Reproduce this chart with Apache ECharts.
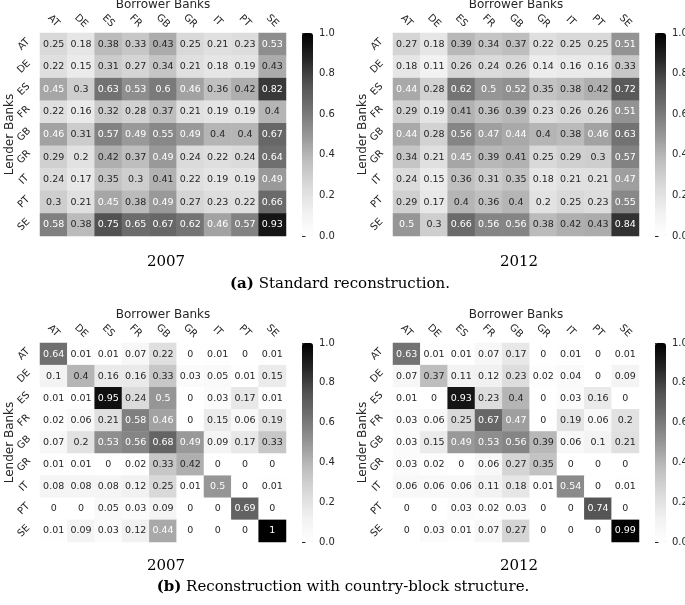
<!DOCTYPE html>
<html>
<head>
<meta charset="utf-8">
<script src="https://cdn.jsdelivr.net/npm/echarts@6/dist/echarts.min.js"></script>
<style>
  html, body { margin: 0; padding: 0; background: #fff; }
  #chart { width: 685px; height: 605px; }
</style>
</head>
<body>
<div id="chart"></div>
<script>
// banks (same order on both axes)
const banks = ["AT", "DE", "ES", "FR", "GB", "GR", "IT", "PT", "SE"];
const cbTicks = [0, 0.2, 0.4, 0.6, 0.8, 1.0];

// (a) standard reconstruction, rows = lender, cols = borrower
const std2007 = [
  [0.25, 0.18, 0.38, 0.33, 0.43, 0.25, 0.21, 0.23, 0.53],
  [0.22, 0.15, 0.31, 0.27, 0.34, 0.21, 0.18, 0.19, 0.43],
  [0.45, 0.3, 0.63, 0.53, 0.6, 0.46, 0.36, 0.42, 0.82],
  [0.22, 0.16, 0.32, 0.28, 0.37, 0.21, 0.19, 0.19, 0.4],
  [0.46, 0.31, 0.57, 0.49, 0.55, 0.49, 0.4, 0.4, 0.67],
  [0.29, 0.2, 0.42, 0.37, 0.49, 0.24, 0.22, 0.24, 0.64],
  [0.24, 0.17, 0.35, 0.3, 0.41, 0.22, 0.19, 0.19, 0.49],
  [0.3, 0.21, 0.45, 0.38, 0.49, 0.27, 0.23, 0.22, 0.66],
  [0.58, 0.38, 0.75, 0.65, 0.67, 0.62, 0.46, 0.57, 0.93],
];
const std2012 = [
  [0.27, 0.18, 0.39, 0.34, 0.37, 0.22, 0.25, 0.25, 0.51],
  [0.18, 0.11, 0.26, 0.24, 0.26, 0.14, 0.16, 0.16, 0.33],
  [0.44, 0.28, 0.62, 0.5, 0.52, 0.35, 0.38, 0.42, 0.72],
  [0.29, 0.19, 0.41, 0.36, 0.39, 0.23, 0.26, 0.26, 0.51],
  [0.44, 0.28, 0.56, 0.47, 0.44, 0.4, 0.38, 0.46, 0.63],
  [0.34, 0.21, 0.45, 0.39, 0.41, 0.25, 0.29, 0.3, 0.57],
  [0.24, 0.15, 0.36, 0.31, 0.35, 0.18, 0.21, 0.21, 0.47],
  [0.29, 0.17, 0.4, 0.36, 0.4, 0.2, 0.25, 0.23, 0.55],
  [0.5, 0.3, 0.66, 0.56, 0.56, 0.38, 0.42, 0.43, 0.84],
];
// (b) country-block structure
const blk2007 = [
  [0.64, 0.01, 0.01, 0.07, 0.22, 0, 0.01, 0, 0.01],
  [0.1, 0.4, 0.16, 0.16, 0.33, 0.03, 0.05, 0.01, 0.15],
  [0.01, 0.01, 0.95, 0.24, 0.5, 0, 0.03, 0.17, 0.01],
  [0.02, 0.06, 0.21, 0.58, 0.46, 0, 0.15, 0.06, 0.19],
  [0.07, 0.2, 0.53, 0.56, 0.68, 0.49, 0.09, 0.17, 0.33],
  [0.01, 0.01, 0, 0.02, 0.33, 0.42, 0, 0, 0],
  [0.08, 0.08, 0.08, 0.12, 0.25, 0.01, 0.5, 0, 0.01],
  [0, 0, 0.05, 0.03, 0.09, 0, 0, 0.69, 0],
  [0.01, 0.09, 0.03, 0.12, 0.44, 0, 0, 0, 1],
];
const blk2012 = [
  [0.63, 0.01, 0.01, 0.07, 0.17, 0, 0.01, 0, 0.01],
  [0.07, 0.37, 0.11, 0.12, 0.23, 0.02, 0.04, 0, 0.09],
  [0.01, 0, 0.93, 0.23, 0.4, 0, 0.03, 0.16, 0],
  [0.03, 0.06, 0.25, 0.67, 0.47, 0, 0.19, 0.06, 0.2],
  [0.03, 0.15, 0.49, 0.53, 0.56, 0.39, 0.06, 0.1, 0.21],
  [0.03, 0.02, 0, 0.06, 0.27, 0.35, 0, 0, 0],
  [0.06, 0.06, 0.06, 0.11, 0.18, 0.01, 0.54, 0, 0.01],
  [0, 0, 0.03, 0.02, 0.03, 0, 0, 0.74, 0],
  [0, 0.03, 0.01, 0.07, 0.27, 0, 0, 0, 0.99],
];

const matrices = [std2007, std2012, blk2007, blk2012];

// layout of the four heatmaps (px)
const boxes = [
  { left: 40, top: 33, width: 246, height: 203 },
  { left: 393, top: 33, width: 246, height: 203 },
  { left: 40, top: 343, width: 246, height: 199 },
  { left: 393, top: 343, width: 246, height: 199 },
];

// matplotlib "Greys"
const greys = ["#ffffff", "#f0f0f0", "#d9d9d9", "#bdbdbd", "#969696",
  "#737373", "#525252", "#252525", "#000000"];
const FONT = "DejaVu Sans";
const INK = "#262626";

const grid = [], xAxis = [], yAxis = [], series = [], visualMap = [];

boxes.forEach((b, i) => {
  grid.push({ left: b.left, top: b.top, width: b.width, height: b.height, outerBoundsMode: "none" });
  xAxis.push({
    type: "category", gridIndex: i, data: banks, position: "top",
    name: "Borrower Banks", nameLocation: "middle", nameGap: 22, nameMoveOverlap: false,
    nameTextStyle: { fontFamily: FONT, fontSize: 12, color: INK },
    axisLine: { show: false },
    axisTick: { alignWithLabel: true, length: 3.5, lineStyle: { color: INK } },
    axisLabel: { rotate: 45, align: "center", verticalAlign: "middle", margin: 12,
      interval: 0, fontFamily: FONT, fontSize: 10, color: INK },
    splitLine: { show: false },
  });
  yAxis.push({
    type: "category", gridIndex: i, data: banks, inverse: true,
    name: "Lender Banks", nameLocation: "middle", nameGap: 24, nameMoveOverlap: false,
    nameTextStyle: { fontFamily: FONT, fontSize: 12, color: INK },
    axisLine: { show: false },
    axisTick: { alignWithLabel: true, length: 3.5, lineStyle: { color: INK } },
    axisLabel: { rotate: 45, align: "center", verticalAlign: "middle", margin: 16,
      interval: 0, fontFamily: FONT, fontSize: 10, color: INK },
    splitLine: { show: false },
  });

  const data = [];
  matrices[i].forEach((row, r) => {
    row.forEach((v, c) => {
      data.push({ value: [c, r, v], label: { color: v >= 0.44 ? "#ffffff" : INK } });
    });
  });
  series.push({
    type: "heatmap", xAxisIndex: i, yAxisIndex: i, data: data,
    label: { show: true, fontFamily: FONT, fontSize: 9.5, formatter: (p) => String(p.value[2]) },
    itemStyle: { borderWidth: 0 },
    emphasis: { disabled: true },
  });

  // colour bar
  const cbLeft = b.left + b.width + 16;
  visualMap.push({
    type: "continuous", seriesIndex: i, min: 0, max: 1, calculable: false,
    orient: "vertical", left: cbLeft, top: b.top, padding: 0,
    itemWidth: 11, itemHeight: b.height, hoverLink: false,
    inRange: { color: greys },
  });
});

// tick axes next to the colour bars
boxes.forEach((b, i) => {
  const g = grid.length;
  grid.push({ left: b.left + b.width + 16, top: b.top, width: 11, height: b.height, outerBoundsMode: "none" });
  xAxis.push({ type: "value", gridIndex: g, show: false, min: 0, max: 1 });
  yAxis.push({
    type: "value", gridIndex: g, position: "right", min: cbTicks[0],
    max: cbTicks[cbTicks.length - 1], interval: 0.2,
    axisLine: { show: false },
    axisTick: { show: true, length: 3.5, lineStyle: { color: INK } },
    axisLabel: { margin: 6, fontFamily: FONT, fontSize: 10, color: INK,
      formatter: (v) => v.toFixed(1) },
    splitLine: { show: false },
  });
});

// sub-figure titles and captions
const serif = "DejaVu Serif";
function caption(x, y, text) {
  return {
    type: "text", x: x, y: y, silent: true,
    style: { text: text, font: "15px '" + serif + "'", fill: "#000",
      align: "center", verticalAlign: "middle",
      rich: { b: { fontFamily: serif, fontSize: 15, fontWeight: "bold", fill: "#000" } } },
  };
}

const chart = echarts.init(document.getElementById("chart"));
chart.setOption({
  backgroundColor: "#fff",
  animation: false,
  grid: grid,
  xAxis: xAxis,
  yAxis: yAxis,
  visualMap: visualMap,
  series: series,
  graphic: [
    caption(166, 262, "2007"),
    caption(519, 262, "2012"),
    caption(340, 284, "{b|(a)} Standard reconstruction."),
    caption(166, 566, "2007"),
    caption(519, 566, "2012"),
    caption(343, 587, "{b|(b)} Reconstruction with country-block structure."),
  ],
});
</script>
</body>
</html>
